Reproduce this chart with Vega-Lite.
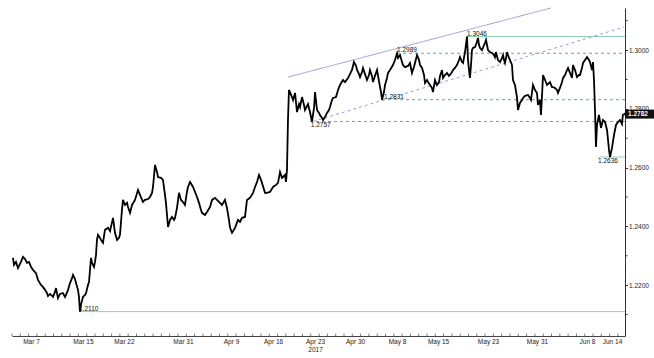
{
  "$schema": "https://vega.github.io/schema/vega-lite/v6.json",
  "width": 613,
  "height": 328,
  "autosize": "none",
  "padding": {"left": 12, "top": 8, "right": 29, "bottom": 22},
  "background": "white",
  "config": {"view": {"stroke": null}, "font": "Liberation Sans"},
  "datasets": {
    "price": [
      {"day":0.12,"rate":1.2293},{"day":0.24,"rate":1.2269},{"day":0.48,"rate":1.2279},{"day":0.72,"rate":1.2258},{"day":1.08,"rate":1.2279},{"day":1.33,"rate":1.2296},{"day":1.57,"rate":1.2289},{"day":1.81,"rate":1.2276},{"day":2.05,"rate":1.2279},{"day":2.29,"rate":1.2262},{"day":2.53,"rate":1.2252},{"day":2.89,"rate":1.2241},{"day":3.13,"rate":1.2218},{"day":3.49,"rate":1.2201},{"day":3.73,"rate":1.2194},{"day":3.98,"rate":1.2184},{"day":4.22,"rate":1.2173},{"day":4.34,"rate":1.2163},{"day":4.58,"rate":1.217},{"day":4.94,"rate":1.216},{"day":5.18,"rate":1.2177},{"day":5.3,"rate":1.219},{"day":5.54,"rate":1.2156},{"day":5.78,"rate":1.217},{"day":6.14,"rate":1.2173},{"day":6.39,"rate":1.216},{"day":6.51,"rate":1.2167},{"day":6.75,"rate":1.2184},{"day":6.99,"rate":1.2207},{"day":7.23,"rate":1.2224},{"day":7.35,"rate":1.2235},{"day":7.59,"rate":1.2221},{"day":7.71,"rate":1.2207},{"day":7.95,"rate":1.2184},{"day":8.07,"rate":1.216},{"day":8.19,"rate":1.211},{"day":8.31,"rate":1.2133},{"day":8.55,"rate":1.216},{"day":8.8,"rate":1.2167},{"day":8.92,"rate":1.2173},{"day":9.16,"rate":1.2201},{"day":9.28,"rate":1.2211},{"day":9.52,"rate":1.2293},{"day":9.64,"rate":1.2276},{"day":9.88,"rate":1.2262},{"day":10.0,"rate":1.2279},{"day":10.12,"rate":1.2303},{"day":10.24,"rate":1.2354},{"day":10.36,"rate":1.2371},{"day":10.6,"rate":1.2361},{"day":10.72,"rate":1.2354},{"day":10.96,"rate":1.2344},{"day":11.2,"rate":1.2388},{"day":11.57,"rate":1.2395},{"day":11.81,"rate":1.2384},{"day":12.17,"rate":1.2429},{"day":12.41,"rate":1.2378},{"day":12.65,"rate":1.2354},{"day":12.89,"rate":1.2361},{"day":13.01,"rate":1.2371},{"day":13.25,"rate":1.2456},{"day":13.37,"rate":1.249},{"day":13.61,"rate":1.2473},{"day":13.86,"rate":1.248},{"day":13.98,"rate":1.2466},{"day":14.22,"rate":1.2446},{"day":14.46,"rate":1.2473},{"day":14.82,"rate":1.249},{"day":15.18,"rate":1.2524},{"day":15.42,"rate":1.2507},{"day":15.78,"rate":1.2483},{"day":16.02,"rate":1.249},{"day":16.39,"rate":1.2493},{"day":16.63,"rate":1.25},{"day":16.87,"rate":1.2514},{"day":16.99,"rate":1.2534},{"day":17.23,"rate":1.2609},{"day":17.47,"rate":1.2585},{"day":17.59,"rate":1.2568},{"day":17.95,"rate":1.2565},{"day":18.19,"rate":1.2558},{"day":18.43,"rate":1.2507},{"day":18.55,"rate":1.248},{"day":18.8,"rate":1.2398},{"day":19.04,"rate":1.2422},{"day":19.28,"rate":1.2432},{"day":19.52,"rate":1.2422},{"day":19.64,"rate":1.2429},{"day":19.88,"rate":1.2463},{"day":20.12,"rate":1.2514},{"day":20.36,"rate":1.249},{"day":20.6,"rate":1.2483},{"day":20.84,"rate":1.2473},{"day":21.08,"rate":1.2517},{"day":21.2,"rate":1.2534},{"day":21.45,"rate":1.2551},{"day":21.81,"rate":1.2534},{"day":22.05,"rate":1.2517},{"day":22.29,"rate":1.25},{"day":22.53,"rate":1.248},{"day":22.77,"rate":1.2456},{"day":22.89,"rate":1.2446},{"day":23.25,"rate":1.2439},{"day":23.49,"rate":1.2449},{"day":23.86,"rate":1.2466},{"day":24.1,"rate":1.249},{"day":24.46,"rate":1.2497},{"day":24.7,"rate":1.249},{"day":25.06,"rate":1.248},{"day":25.3,"rate":1.2473},{"day":25.66,"rate":1.249},{"day":25.9,"rate":1.2463},{"day":26.14,"rate":1.2422},{"day":26.27,"rate":1.2395},{"day":26.51,"rate":1.2378},{"day":26.87,"rate":1.2395},{"day":27.23,"rate":1.2422},{"day":27.47,"rate":1.2415},{"day":27.71,"rate":1.2429},{"day":28.07,"rate":1.2432},{"day":28.31,"rate":1.249},{"day":28.67,"rate":1.2497},{"day":29.04,"rate":1.2514},{"day":29.28,"rate":1.2534},{"day":29.52,"rate":1.2551},{"day":29.76,"rate":1.2575},{"day":30.0,"rate":1.2558},{"day":30.12,"rate":1.2548},{"day":30.48,"rate":1.2514},{"day":30.72,"rate":1.2514},{"day":31.08,"rate":1.2517},{"day":31.45,"rate":1.2534},{"day":31.81,"rate":1.2541},{"day":32.05,"rate":1.2548},{"day":32.29,"rate":1.2585},{"day":32.53,"rate":1.2565},{"day":32.65,"rate":1.2568},{"day":32.89,"rate":1.2575},{"day":33.01,"rate":1.2551},{"day":33.13,"rate":1.2592},{"day":33.25,"rate":1.2762},{"day":33.37,"rate":1.2864},{"day":33.49,"rate":1.2857},{"day":33.73,"rate":1.284},{"day":33.86,"rate":1.283},{"day":34.1,"rate":1.2854},{"day":34.34,"rate":1.2789},{"day":34.58,"rate":1.2816},{"day":34.7,"rate":1.2806},{"day":34.94,"rate":1.284},{"day":35.18,"rate":1.2813},{"day":35.3,"rate":1.2796},{"day":35.66,"rate":1.2816},{"day":35.9,"rate":1.2789},{"day":36.14,"rate":1.2757},{"day":36.39,"rate":1.2803},{"day":36.51,"rate":1.2857},{"day":36.75,"rate":1.2796},{"day":36.99,"rate":1.2786},{"day":37.11,"rate":1.2779},{"day":37.35,"rate":1.2769},{"day":37.47,"rate":1.2762},{"day":37.71,"rate":1.2772},{"day":37.95,"rate":1.2786},{"day":38.19,"rate":1.2796},{"day":38.31,"rate":1.2806},{"day":38.55,"rate":1.283},{"day":38.67,"rate":1.2837},{"day":39.04,"rate":1.284},{"day":39.28,"rate":1.2864},{"day":39.52,"rate":1.2881},{"day":39.88,"rate":1.2898},{"day":40.12,"rate":1.2891},{"day":40.48,"rate":1.2905},{"day":40.72,"rate":1.2918},{"day":40.96,"rate":1.2932},{"day":41.2,"rate":1.2959},{"day":41.45,"rate":1.2946},{"day":41.57,"rate":1.2932},{"day":41.81,"rate":1.2918},{"day":41.93,"rate":1.2908},{"day":42.17,"rate":1.2925},{"day":42.29,"rate":1.2939},{"day":42.53,"rate":1.2918},{"day":42.77,"rate":1.2898},{"day":43.01,"rate":1.2915},{"day":43.13,"rate":1.2932},{"day":43.37,"rate":1.2912},{"day":43.49,"rate":1.2891},{"day":43.73,"rate":1.2912},{"day":43.98,"rate":1.2932},{"day":44.1,"rate":1.2912},{"day":44.34,"rate":1.2874},{"day":44.46,"rate":1.2857},{"day":44.58,"rate":1.2831},{"day":44.82,"rate":1.2857},{"day":44.94,"rate":1.2881},{"day":45.18,"rate":1.2905},{"day":45.3,"rate":1.2922},{"day":45.54,"rate":1.2932},{"day":45.9,"rate":1.2949},{"day":46.14,"rate":1.2966},{"day":46.39,"rate":1.2989},{"day":46.51,"rate":1.2973},{"day":46.75,"rate":1.2983},{"day":46.99,"rate":1.2959},{"day":47.11,"rate":1.2949},{"day":47.35,"rate":1.2942},{"day":47.71,"rate":1.2946},{"day":47.95,"rate":1.2956},{"day":48.19,"rate":1.2922},{"day":48.43,"rate":1.2942},{"day":48.55,"rate":1.2956},{"day":48.8,"rate":1.2983},{"day":49.04,"rate":1.2966},{"day":49.16,"rate":1.2949},{"day":49.4,"rate":1.2939},{"day":49.64,"rate":1.2915},{"day":49.76,"rate":1.2888},{"day":50.0,"rate":1.2898},{"day":50.12,"rate":1.2891},{"day":50.36,"rate":1.2881},{"day":50.6,"rate":1.2871},{"day":50.72,"rate":1.2857},{"day":50.96,"rate":1.2898},{"day":51.2,"rate":1.2881},{"day":51.45,"rate":1.2891},{"day":51.57,"rate":1.2912},{"day":51.81,"rate":1.2932},{"day":51.93,"rate":1.2905},{"day":52.17,"rate":1.2915},{"day":52.41,"rate":1.2922},{"day":52.65,"rate":1.2912},{"day":52.77,"rate":1.2915},{"day":53.01,"rate":1.2925},{"day":53.13,"rate":1.2932},{"day":53.37,"rate":1.2939},{"day":53.61,"rate":1.2949},{"day":53.86,"rate":1.2966},{"day":53.98,"rate":1.2976},{"day":54.22,"rate":1.2959},{"day":54.34,"rate":1.2956},{"day":54.58,"rate":1.2993},{"day":54.82,"rate":1.3046},{"day":54.94,"rate":1.2966},{"day":55.06,"rate":1.2932},{"day":55.18,"rate":1.2905},{"day":55.3,"rate":1.2949},{"day":55.42,"rate":1.3},{"day":55.54,"rate":1.3007},{"day":55.78,"rate":1.301},{"day":56.02,"rate":1.3027},{"day":56.14,"rate":1.3041},{"day":56.27,"rate":1.3017},{"day":56.39,"rate":1.3007},{"day":56.63,"rate":1.3},{"day":56.87,"rate":1.3017},{"day":56.99,"rate":1.3024},{"day":57.11,"rate":1.3034},{"day":57.23,"rate":1.3017},{"day":57.35,"rate":1.3},{"day":57.59,"rate":1.2993},{"day":57.83,"rate":1.299},{"day":58.07,"rate":1.2983},{"day":58.19,"rate":1.2976},{"day":58.31,"rate":1.2993},{"day":58.55,"rate":1.2966},{"day":58.8,"rate":1.2959},{"day":59.04,"rate":1.2973},{"day":59.16,"rate":1.2983},{"day":59.28,"rate":1.2966},{"day":59.4,"rate":1.2956},{"day":59.52,"rate":1.2973},{"day":59.64,"rate":1.2993},{"day":59.88,"rate":1.2973},{"day":60.0,"rate":1.2966},{"day":60.24,"rate":1.2949},{"day":60.36,"rate":1.2898},{"day":60.6,"rate":1.2881},{"day":60.84,"rate":1.284},{"day":60.96,"rate":1.2796},{"day":61.2,"rate":1.282},{"day":61.45,"rate":1.283},{"day":61.57,"rate":1.2837},{"day":61.81,"rate":1.2844},{"day":62.17,"rate":1.2847},{"day":62.41,"rate":1.2837},{"day":62.53,"rate":1.283},{"day":62.77,"rate":1.2881},{"day":63.01,"rate":1.2864},{"day":63.25,"rate":1.2854},{"day":63.37,"rate":1.2813},{"day":63.61,"rate":1.283},{"day":63.73,"rate":1.2779},{"day":63.86,"rate":1.2847},{"day":63.98,"rate":1.2915},{"day":64.22,"rate":1.2898},{"day":64.46,"rate":1.2881},{"day":64.82,"rate":1.2891},{"day":65.06,"rate":1.2874},{"day":65.18,"rate":1.2874},{"day":65.42,"rate":1.2871},{"day":65.66,"rate":1.2864},{"day":65.78,"rate":1.2854},{"day":66.02,"rate":1.2871},{"day":66.27,"rate":1.2891},{"day":66.39,"rate":1.2905},{"day":66.63,"rate":1.2915},{"day":66.87,"rate":1.2932},{"day":66.99,"rate":1.2939},{"day":67.23,"rate":1.2922},{"day":67.47,"rate":1.2905},{"day":67.59,"rate":1.2949},{"day":67.83,"rate":1.2932},{"day":68.07,"rate":1.2908},{"day":68.31,"rate":1.2915},{"day":68.43,"rate":1.2915},{"day":68.67,"rate":1.2939},{"day":68.8,"rate":1.2956},{"day":69.04,"rate":1.2966},{"day":69.28,"rate":1.2976},{"day":69.52,"rate":1.2966},{"day":69.64,"rate":1.2959},{"day":69.88,"rate":1.2932},{"day":70.0,"rate":1.2959},{"day":70.12,"rate":1.2898},{"day":70.24,"rate":1.2796},{"day":70.36,"rate":1.267},{"day":70.48,"rate":1.2745},{"day":70.72,"rate":1.2779},{"day":70.96,"rate":1.2735},{"day":71.2,"rate":1.2762},{"day":71.45,"rate":1.2755},{"day":71.69,"rate":1.2728},{"day":71.93,"rate":1.266},{"day":72.05,"rate":1.2636},{"day":72.29,"rate":1.2667},{"day":72.53,"rate":1.2711},{"day":72.77,"rate":1.2745},{"day":73.01,"rate":1.2755},{"day":73.25,"rate":1.2762},{"day":73.49,"rate":1.2748},{"day":73.61,"rate":1.2782}
    ],
    "extremes": [
      {"level":1.3046,"from":54.82,"to":73.855},
      {"level":1.2636,"from":70.6,"to":73.855},
      {"level":1.2110,"from":8.07,"to":73.855}
    ],
    "swings": [
      {"level":1.2989,"from":46.39,"to":73.855},
      {"level":1.2831,"from":44.58,"to":73.855},
      {"level":1.2757,"from":35.9,"to":73.855}
    ],
    "channel": [
      {"edge":"upper","day0":33.25,"rate0":1.2908,"day1":64.94,"rate1":1.3143},
      {"edge":"lower","day0":36.27,"rate0":1.2757,"day1":73.73,"rate1":1.3078}
    ],
    "notesAbove": [
      {"day":54.82,"rate":1.3046,"label":"1.3046"},
      {"day":46.39,"rate":1.2989,"label":"1.2989"},
      {"day":44.82,"rate":1.2831,"label":"1.2831"},
      {"day":8.07,"rate":1.2110,"label":"1.2110"}
    ],
    "notesBelow": [
      {"day":36.0,"rate":1.2757,"label":"1.2757"},
      {"day":70.6,"rate":1.2636,"label":"1.2636"}
    ],
    "last": [{"day":73.855,"rate":1.2782,"label":"1.2782"}],
    "yminor": [{"rate":1.21},{"rate":1.23},{"rate":1.25},{"rate":1.27},{"rate":1.29},{"rate":1.31}],
    "xticks": [
      {"day":0},{"day":1},{"day":2},{"day":3},{"day":4},{"day":5},{"day":6},{"day":7},{"day":8},{"day":9},{"day":10},{"day":11},{"day":12},{"day":13},{"day":14},{"day":15},{"day":16},{"day":17},{"day":18},{"day":19},{"day":20},{"day":21},{"day":22},{"day":23},{"day":24},{"day":25},{"day":26},{"day":27},{"day":28},{"day":29},{"day":30},{"day":31},{"day":32},{"day":33},{"day":34},{"day":35},{"day":36},{"day":37},{"day":38},{"day":39},{"day":40},{"day":41},{"day":42},{"day":43},{"day":44},{"day":45},{"day":46},{"day":47},{"day":48},{"day":49},{"day":50},{"day":51},{"day":52},{"day":53},{"day":54},{"day":55},{"day":56},{"day":57},{"day":58},{"day":59},{"day":60},{"day":61},{"day":62},{"day":63},{"day":64},{"day":65},{"day":66},{"day":67},{"day":68},{"day":69},{"day":70},{"day":71},{"day":72},{"day":73}
    ]
  },
  "layer": [
    {
      "data": {"name": "extremes"},
      "mark": {"type": "rule", "color": "#8ed3b3", "strokeWidth": 1},
      "encoding": {
        "x": {"field": "from", "type": "quantitative", "title": null},
        "x2": {"field": "to"},
        "y": {"field": "level", "type": "quantitative", "title": null}
      }
    },
    {
      "data": {"name": "swings"},
      "mark": {"type": "rule", "color": "#55b387", "strokeWidth": 1, "strokeDash": [3, 3]},
      "encoding": {
        "x": {"field": "from", "type": "quantitative", "title": null},
        "x2": {"field": "to"},
        "y": {"field": "level", "type": "quantitative", "title": null}
      }
    },
    {
      "data": {"name": "channel"},
      "mark": {"type": "rule", "color": "#9c9cd6", "strokeWidth": 1},
      "encoding": {
        "x": {"field": "day0", "type": "quantitative", "title": null},
        "x2": {"field": "day1"},
        "y": {"field": "rate0", "type": "quantitative", "title": null},
        "y2": {"field": "rate1"},
        "strokeDash": {"field": "edge", "type": "nominal", "scale": {"domain": ["upper", "lower"], "range": [[1, 0], [3, 3]]}, "legend": null}
      }
    },
    {
      "data": {"name": "xticks"},
      "mark": {"type": "rule", "color": "#555555", "strokeWidth": 0.8},
      "encoding": {
        "x": {"field": "day", "type": "quantitative", "title": null},
        "y": {"datum": 1.2027, "type": "quantitative", "title": null},
        "y2": {"datum": 1.2035}
      }
    },
    {
      "data": {"name": "yminor"},
      "mark": {"type": "rule", "color": "#333333", "strokeWidth": 1},
      "encoding": {
        "y": {"field": "rate", "type": "quantitative", "title": null},
        "x": {"datum": 73.855, "type": "quantitative", "title": null},
        "x2": {"datum": 74.16}
      }
    },
    {
      "data": {"name": "price"},
      "mark": {"type": "line", "color": "#000000", "strokeWidth": 1.8},
      "encoding": {
        "x": {
          "field": "day", "type": "quantitative", "title": null,
          "scale": {"domain": [0, 73.855], "nice": false, "zero": false},
          "axis": {
            "title": null, "grid": false, "ticks": false,
            "values": [2.29, 8.55, 13.49, 20.6, 26.39, 31.45, 36.51, 41.33, 46.39, 51.33, 57.35, 63.25, 69.28, 72.29],
            "labelExpr": "['Mar 7','Mar 15','Mar 22','Mar 31','Apr 9','Apr 16',['Apr 23','2017'],'Apr 30','May 8','May 15','May 23','May 31','Jun 8','Jun 14'][indexof([2.29, 8.55, 13.49, 20.6, 26.39, 31.45, 36.51, 41.33, 46.39, 51.33, 57.35, 63.25, 69.28, 72.29], datum.value)]",
            "labelFontSize": 6.5, "labelColor": "#222222", "labelPadding": 2,
            "labelLineHeight": 8, "labelFlush": false, "labelOverlap": false, "labelBound": false,
            "domainColor": "#444444", "domainWidth": 1
          }
        },
        "y": {
          "field": "rate", "type": "quantitative", "title": null,
          "scale": {"domain": [1.2027, 1.3143], "nice": false, "zero": false},
          "axis": {
            "title": null, "grid": false, "orient": "right",
            "values": [1.22, 1.24, 1.26, 1.28, 1.30],
            "format": ".4f",
            "tickSize": 2.5, "tickColor": "#333333", "domainColor": "#333333",
            "labelFontSize": 6.5, "labelColor": "#222222", "labelPadding": 1,
            "labelOverlap": false, "labelBound": false, "labelFlush": false
          }
        }
      }
    },
    {
      "data": {"name": "notesAbove"},
      "mark": {"type": "text", "align": "left", "baseline": "bottom", "fontSize": 6.5, "color": "#111111", "dy": 0},
      "encoding": {
        "x": {"field": "day", "type": "quantitative", "title": null},
        "y": {"field": "rate", "type": "quantitative", "title": null},
        "text": {"field": "label"}
      }
    },
    {
      "data": {"name": "notesBelow"},
      "mark": {"type": "text", "align": "left", "baseline": "top", "fontSize": 6.5, "color": "#111111", "dy": 1},
      "encoding": {
        "x": {"field": "day", "type": "quantitative", "title": null},
        "y": {"field": "rate", "type": "quantitative", "title": null},
        "text": {"field": "label"}
      }
    },
    {
      "data": {"name": "last"},
      "mark": {"type": "rect", "width": 29, "height": 9, "color": "#111111", "xOffset": 14.5},
      "encoding": {
        "x": {"field": "day", "type": "quantitative", "title": null},
        "y": {"field": "rate", "type": "quantitative", "title": null}
      }
    },
    {
      "data": {"name": "last"},
      "mark": {"type": "point", "shape": "triangle-left", "size": 14, "filled": true, "color": "#111111", "opacity": 1, "xOffset": -1},
      "encoding": {
        "x": {"field": "day", "type": "quantitative", "title": null},
        "y": {"field": "rate", "type": "quantitative", "title": null}
      }
    },
    {
      "data": {"name": "last"},
      "mark": {"type": "text", "align": "left", "baseline": "middle", "fontSize": 6.5, "fontWeight": "bold", "color": "#ffffff", "dx": 3},
      "encoding": {
        "x": {"field": "day", "type": "quantitative", "title": null},
        "y": {"field": "rate", "type": "quantitative", "title": null},
        "text": {"field": "label"}
      }
    }
  ]
}
